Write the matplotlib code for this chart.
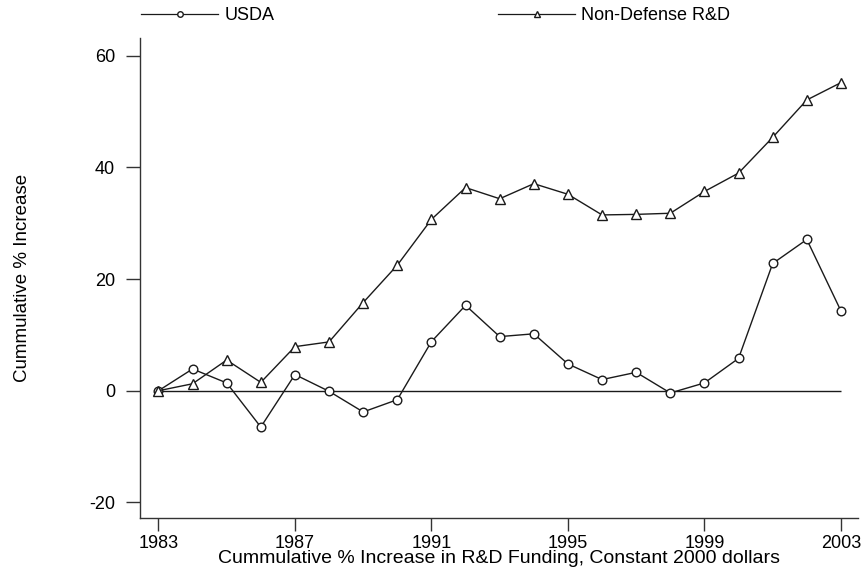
import matplotlib
matplotlib.use("Agg")
import matplotlib.pyplot as plt
from matplotlib.lines import Line2D

plt.rcParams['font.family'] = ['Liberation Sans', 'DejaVu Sans']
plt.rcParams['axes.unicode_minus'] = False

years = list(range(1983, 2004))
usda = [0.0, 3.9, 1.4, -6.5, 2.9, -0.1, -3.8, -1.6, 8.8, 15.3, 9.7, 10.2,
        4.8, 2.0, 3.3, -0.4, 1.4, 5.8, 22.8, 27.1, 14.3]
nondef = [0.0, 1.25, 5.5, 1.5, 7.9, 8.75, 15.8, 22.5, 30.7, 36.4, 34.4, 37.1,
          35.2, 31.5, 31.6, 31.8, 35.7, 39.0, 45.4, 52.1, 55.2]
xticks = [1983, 1987, 1991, 1995, 1999, 2003]
yticks = [-20, 0, 20, 40, 60]
series_names = ["USDA", "Non-Defense R&D"]

fig = plt.figure(figsize=(8.62, 5.78), dpi=100)
ax = fig.add_axes([140/862, 1-518/578, (858-140)/862, (518-38)/578])

col = '#1a1a1a'
ax.hlines(0, years[0], years[-1], color=col, lw=1.0)
l1, = ax.plot(years, usda, color=col, lw=1.0, marker='o', ms=6.2,
              mfc='white', mec=col, mew=1.0, label=series_names[0])
l2, = ax.plot(years, nondef, color=col, lw=1.0, marker='^', ms=7,
              mfc='white', mec=col, mew=1.0, label=series_names[1])

ax.set_xlim(1982.46, 2003.5)
ax.set_ylim(-22.8, 63.2)
ax.set_xticks(xticks)
ax.set_yticks(yticks)
ax.spines['top'].set_visible(False)
ax.spines['right'].set_visible(False)
for s in ['left', 'bottom']:
    ax.spines[s].set_color('#333333')
    ax.spines[s].set_linewidth(1.0)
ax.tick_params(direction='out', width=1.0, colors='#333333',
               labelsize=13, labelcolor='black')
ax.tick_params(axis='y', length=10, pad=8)
ax.tick_params(axis='x', length=9, pad=3)
ax.set_xlabel("Cummulative % Increase in R&D Funding, Constant 2000 dollars",
              fontsize=14, labelpad=-1)
ax.set_ylabel("Cummulative % Increase", fontsize=13.5, labelpad=42)

h1 = Line2D([], [], color=col, lw=0.9, marker='o', ms=4, mfc='white', mec=col)
h2 = Line2D([], [], color=col, lw=0.9, marker='^', ms=5, mfc='white', mec=col)
fig.legend([h1, h2], series_names, loc='center left',
           bbox_to_anchor=(141/862, 1-16/578),
           ncol=2, frameon=False, fontsize=13, handlelength=4.28, handletextpad=0.33,
           columnspacing=12.4, numpoints=1, borderaxespad=0, borderpad=0)

fig.savefig("out.png", dpi=100)
